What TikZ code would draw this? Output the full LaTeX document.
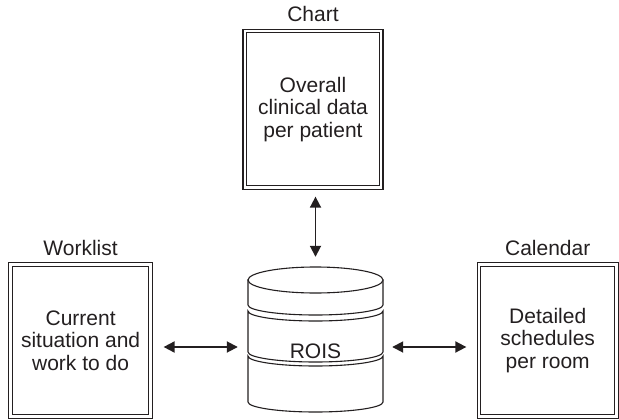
\documentclass[tikz,border=0pt]{standalone}
\usepackage{fontspec}
\setmainfont{Liberation Sans}
\usetikzlibrary{arrows.meta}
\definecolor{ink}{HTML}{231F20}
\begin{document}
\begin{tikzpicture}[x=1pt,y=-1pt,
  every node/.style={text=ink, font=\fontsize{21pt}{22.5pt}\selectfont},
  dbox/.style={draw=ink, double, double distance=2.3pt, line width=1.2pt, align=center, inner sep=0pt},
  cyl/.style={draw=ink, line width=1.1pt, fill=white},
  arr/.style={draw=ink, line width=1.8pt, {Triangle[length=11pt,width=11pt]}-{Triangle[length=11pt,width=11pt]}}
]
\useasboundingbox (0,0) rectangle (619,420);
% boxes
\node[dbox, minimum width=136.4pt, minimum height=156.3pt] (chart) at (313,109.2) {Overall\\clinical data\\per patient};
\node[dbox, minimum width=140pt, minimum height=152pt] (worklist) at (80.6,340.5) {Current\\situation and\\work to do};
\node[dbox, minimum width=137.5pt, minimum height=152pt] (calendar) at (547.7,340.5) {Detailed\\schedules\\per room};
% labels
\node (chartlbl) at (313,14) {Chart};
\node (worklistlbl) at (80.6,248) {Worklist};
\node (calendarlbl) at (547.7,248) {Calendar};
% database
\node[minimum width=135pt, minimum height=160pt, inner sep=0pt] (rois) at (315.5,347) {};
\draw[cyl] (248,356) -- (248,402) arc[start angle=180, end angle=0, x radius=67.5, y radius=10] -- (383,356) arc[start angle=0, end angle=180, x radius=67.5, y radius=10] -- cycle;
\draw[cyl] (248,311) -- (248,352) arc[start angle=180, end angle=0, x radius=67.5, y radius=10] -- (383,311) arc[start angle=0, end angle=180, x radius=67.5, y radius=10] -- cycle;
\draw[cyl] (248,280) -- (248,305) arc[start angle=180, end angle=0, x radius=67.5, y radius=10] -- (383,280) -- cycle;
\draw[cyl] (315.5,280) ellipse[x radius=67.5, y radius=13];
\node (roislbl) at (315.5,351) {ROIS};
% connectors
\draw[arr, shorten <=8.7pt, shorten >=10pt] (rois.north |- chart.south) -- (rois.north);
\draw[arr, shorten <=12.4pt, shorten >=10pt] (rois.west -| worklist.east) -- (rois.west);
\draw[arr, shorten <=9pt, shorten >=12pt] (rois.east) -- (rois.east -| calendar.west);
\end{tikzpicture}
\end{document}
